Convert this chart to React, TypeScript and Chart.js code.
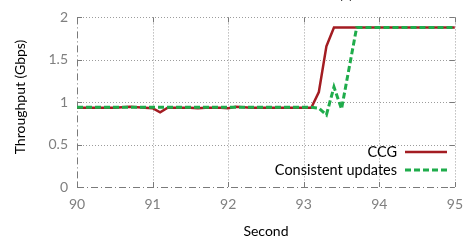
import React, { useEffect, useRef } from "react";
import { Chart, registerables } from "chart.js";
Chart.register(...registerables);

const times = [
  90.0, 90.1, 90.2, 90.3, 90.4, 90.5, 90.6, 90.7, 90.8, 90.9,
  91.0, 91.1, 91.2, 91.3, 91.4, 91.5, 91.6, 91.7, 91.8, 91.9,
  92.0, 92.1, 92.2, 92.3, 92.4, 92.5, 92.6, 92.7, 92.8, 92.9,
  93.0, 93.1, 93.2, 93.3, 93.4, 93.5, 93.6, 93.7, 93.8, 93.9,
  94.0, 94.1, 94.2, 94.3, 94.4, 94.5, 94.6, 94.7, 94.8, 94.9,
  95.0,
];

const ccg = [
  0.935, 0.935, 0.935, 0.935, 0.935, 0.935, 0.94, 0.945, 0.94, 0.935,
  0.93, 0.88, 0.935, 0.935, 0.935, 0.935, 0.93, 0.935, 0.935, 0.935,
  0.93, 0.945, 0.94, 0.935, 0.935, 0.935, 0.935, 0.935, 0.935, 0.935,
  0.935, 0.935, 1.12, 1.66, 1.88, 1.88, 1.88, 1.88, 1.88, 1.88,
  1.88, 1.88, 1.88, 1.88, 1.88, 1.88, 1.88, 1.88, 1.88, 1.88,
  1.88,
];

const consistent = [
  0.94, 0.94, 0.94, 0.94, 0.94, 0.94, 0.94, 0.94, 0.94, 0.94,
  0.94, 0.94, 0.94, 0.94, 0.94, 0.94, 0.94, 0.94, 0.94, 0.94,
  0.94, 0.94, 0.94, 0.94, 0.94, 0.94, 0.94, 0.94, 0.94, 0.94,
  0.94, 0.94, 0.93, 0.85, 1.18, 0.92, 1.40, 1.88, 1.88, 1.88,
  1.88, 1.88, 1.88, 1.88, 1.88, 1.88, 1.88, 1.88, 1.88, 1.88,
  1.88,
];

const xTicks = [90, 91, 92, 93, 94, 95];
const yTicks = [0, 0.5, 1, 1.5, 2];
const seriesNames = ["CCG", "Consistent updates"];
const xTitle = "Second";
const yTitle = "Throughput (Gbps)";
const panelTitle = "(a)";

const FONT = "Lato, 'Open Sans', sans-serif";
const RED = "#a31c22";
const GREEN = "#1fac4b";

const framePlugin = {
  id: "frame",
  beforeDatasetsDraw(chart: any) {
    const { ctx, chartArea } = chart;
    const { left, right, top, bottom } = chartArea;
    const xs = chart.scales.x;
    const ys = chart.scales.y;
    ctx.save();
    // dotted grid
    ctx.strokeStyle = "#9c9c9c";
    ctx.lineWidth = 1;
    ctx.setLineDash([1, 2]);
    ctx.beginPath();
    xTicks.slice(1).forEach((v) => {
      const px = Math.round(xs.getPixelForValue(v)) + 0.5;
      ctx.moveTo(px, top);
      ctx.lineTo(px, bottom);
    });
    yTicks.slice(1).forEach((v) => {
      const py = Math.round(ys.getPixelForValue(v)) + 0.5;
      ctx.moveTo(left, py);
      ctx.lineTo(right, py);
    });
    ctx.stroke();
    // dash-dot axes
    ctx.strokeStyle = "#7a7a7a";
    ctx.setLineDash([7, 3, 1, 3]);
    ctx.beginPath();
    ctx.moveTo(left + 0.5, top);
    ctx.lineTo(left + 0.5, bottom);
    ctx.moveTo(left, bottom + 0.5);
    ctx.lineTo(right, bottom + 0.5);
    ctx.stroke();
    // inward tick marks
    ctx.setLineDash([]);
    ctx.beginPath();
    const tl = 5;
    xTicks.forEach((v) => {
      const px = Math.round(xs.getPixelForValue(v)) + 0.5;
      ctx.moveTo(px, bottom);
      ctx.lineTo(px, bottom - tl);
      ctx.moveTo(px, top);
      ctx.lineTo(px, top + tl);
    });
    yTicks.forEach((v) => {
      const py = Math.round(ys.getPixelForValue(v)) + 0.5;
      ctx.moveTo(left, py);
      ctx.lineTo(left + tl, py);
      ctx.moveTo(right, py);
      ctx.lineTo(right - tl, py);
    });
    ctx.stroke();
    ctx.restore();
  },
  afterDraw(chart: any) {
    const { ctx, chartArea } = chart;
    const { left, right } = chartArea;
    ctx.save();
    ctx.fillStyle = "#000";
    ctx.font = `14px ${FONT}`;
    ctx.textAlign = "center";
    ctx.textBaseline = "middle";
    ctx.fillText(xTitle, (left + right) / 2, 231);
    ctx.save();
    ctx.translate(20, 97);
    ctx.rotate(-Math.PI / 2);
    ctx.fillText(yTitle, 0, 0);
    ctx.restore();
    ctx.textBaseline = "alphabetic";
    ctx.fillText(panelTitle, 346, -1);

    // legend
    ctx.textAlign = "right";
    ctx.textBaseline = "middle";
    ctx.font = `14.5px ${FONT}`;
    const textRight = 397;
    const x1 = 405;
    const x2 = 447;
    const rows = [152, 170];
    ctx.fillText(seriesNames[0], textRight, rows[0]);
    ctx.fillText(seriesNames[1], textRight, rows[1]);
    ctx.lineWidth = 2.5;
    ctx.strokeStyle = RED;
    ctx.beginPath();
    ctx.moveTo(x1, rows[0]);
    ctx.lineTo(x2, rows[0]);
    ctx.stroke();
    ctx.lineWidth = 3;
    ctx.strokeStyle = GREEN;
    ctx.setLineDash([6, 3]);
    ctx.beginPath();
    ctx.moveTo(x1, rows[1]);
    ctx.lineTo(x2, rows[1]);
    ctx.stroke();
    ctx.restore();
  },
};

export default function App() {
  const ref = useRef<HTMLCanvasElement | null>(null);
  useEffect(() => {
    if (!ref.current) return;
    const chart = new Chart(ref.current, {
      type: "line",
      data: {
        datasets: [
          {
            label: seriesNames[0],
            data: times.map((t, i) => ({ x: t, y: ccg[i] })),
            borderColor: RED,
            borderWidth: 2.5,
            pointRadius: 0,
            tension: 0,
            fill: false,
            order: 1,
          },
          {
            label: seriesNames[1],
            data: times.map((t, i) => ({ x: t, y: consistent[i] })),
            borderColor: GREEN,
            borderWidth: 3,
            borderDash: [6, 3],
            pointRadius: 0,
            tension: 0,
            fill: false,
            order: 0,
          },
        ],
      },
      options: {
        responsive: false,
        animation: false,
        events: [],
        layout: { padding: { top: 12, right: 10, left: 0, bottom: 0 } },
        plugins: {
          legend: { display: false },
          tooltip: { enabled: false },
          title: { display: false },
        },
        scales: {
          x: {
            type: "linear",
            min: 90,
            max: 95,
            afterBuildTicks: (s: any) => {
              s.ticks = xTicks.map((v) => ({ value: v }));
            },
            afterFit: (s: any) => {
              s.height = 55;
            },
            ticks: {
              color: "#7f7f7f",
              font: { family: FONT, size: 14 },
              padding: 9,
              maxRotation: 0,
              autoSkip: false,
              callback: (v: any) => String(v),
            },
            grid: { display: false, drawTicks: false },
            border: { display: false },
          },
          y: {
            type: "linear",
            min: 0,
            max: 2,
            afterBuildTicks: (s: any) => {
              s.ticks = yTicks.map((v) => ({ value: v }));
            },
            afterFit: (s: any) => {
              s.width = 77;
            },
            ticks: {
              color: "#7f7f7f",
              font: { family: FONT, size: 14 },
              padding: 9,
              autoSkip: false,
              callback: (v: any) => String(v),
            },
            grid: { display: false, drawTicks: false },
            border: { display: false },
          },
        },
      },
      plugins: [framePlugin],
    });
    return () => chart.destroy();
  }, []);
  return (
    <div style={{ position: "fixed", left: 0, top: 0, width: 472, height: 242, background: "#fff" }}>
      <canvas ref={ref} width={472} height={242} style={{ width: 472, height: 242 }} />
    </div>
  );
}
